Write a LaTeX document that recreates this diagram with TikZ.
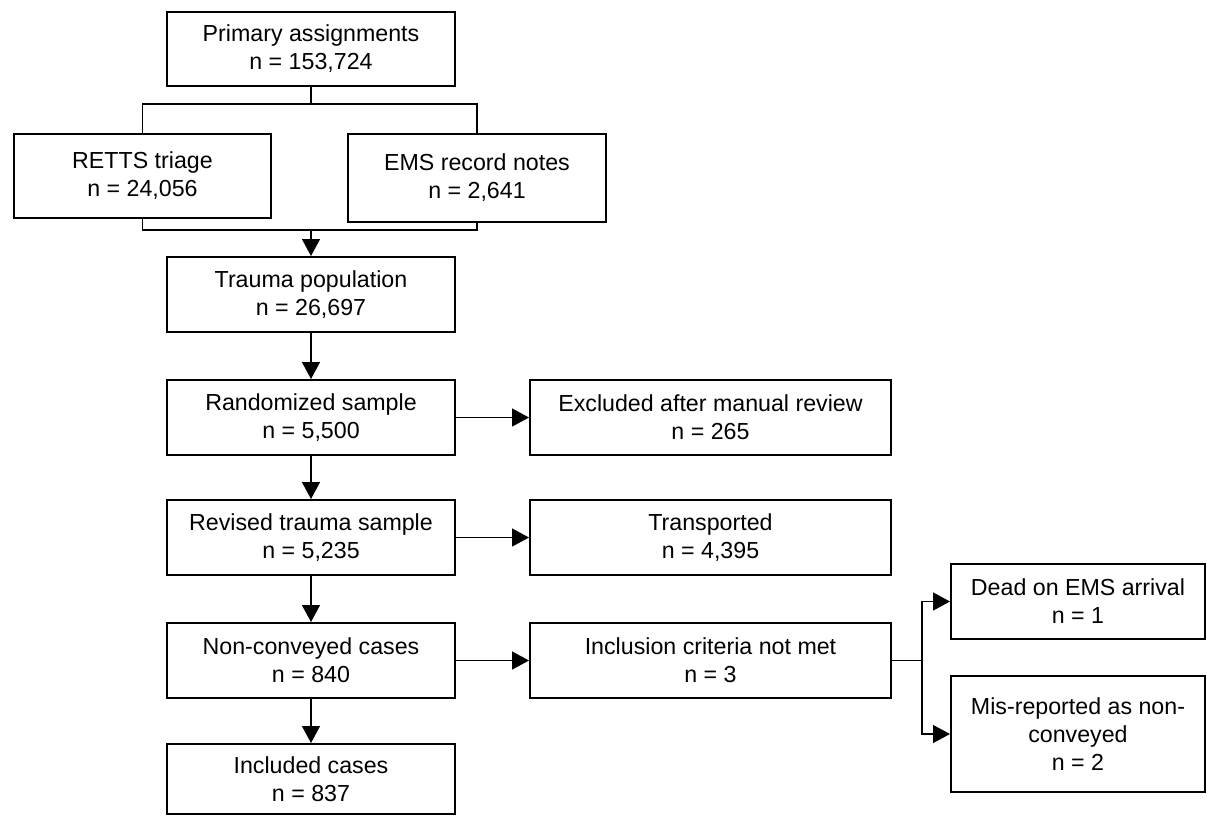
\documentclass[tikz,border=0pt]{standalone}
\usepackage{fontspec}
\setmainfont{Liberation Sans}
\usetikzlibrary{arrows.meta}

\begin{document}
\begin{tikzpicture}[x=0.5pt,y=-0.5pt,
        box/.style={draw, line width=1pt, align=center, inner sep=0pt,
            minimum height=37.5pt, font=\fontsize{11.6}{14}\selectfont},
        main/.style={box, minimum width=144pt},
        side/.style={box, minimum width=180.5pt},
        far/.style={box, minimum width=127pt},
        arr/.style={-{Triangle[length=8.5pt,width=9pt]}, line width=0.7pt},
        link/.style={line width=0.7pt}]
  \useasboundingbox (0,0) rectangle (1207,816);
  \node[main, minimum height=37pt] (prim) at (311,49) {Primary assignments\\n = 153,724};
  \node[box, minimum width=128.5pt, minimum height=42pt] (retts) at (142.5,176) {RETTS triage\\n = 24,056};
  \node[box, minimum width=129pt, minimum height=44pt] (ems) at (477,178) {EMS record notes\\n = 2,641};
  \node[main] (trauma) at (311,294.5) {Trauma population\\n = 26,697};
  \node[main] (rand) at (311,417.5) {Randomized sample\\n = 5,500};
  \node[side] (excl) at (710.5,417.5) {Excluded after manual review\\n = 265};
  \node[main] (rev) at (311,537.5) {Revised trauma sample\\n = 5,235};
  \node[side] (trans) at (710.5,537.5) {Transported\\n = 4,395};
  \node[main] (nonconv) at (311,660.5) {Non-conveyed cases\\n = 840};
  \node[side] (crit) at (710.5,660.5) {Inclusion criteria not met\\n = 3};
  \node[main, minimum height=35pt] (incl) at (311,779) {Included cases\\n = 837};
  \node[far] (dead) at (1078,601.5) {Dead on EMS arrival\\n = 1};
  \node[far, minimum height=58pt] (mis) at (1078,734) {Mis-reported as non-\\conveyed\\n = 2};

  \coordinate (split) at (311,104);
  \coordinate (merge) at (311,230);
  \coordinate (fork) at (922,660.5);

  \draw[link] (prim) -- (split);
  \draw[link] (retts.north) |- (split) -| (ems.north);
  \draw[link] (retts.south) |- (merge) -| (ems.south);
  \draw[arr] (merge) -- (trauma);
  \draw[arr] (trauma) -- (rand);
  \draw[arr] (rand) -- (excl);
  \draw[arr] (rand) -- (rev);
  \draw[arr] (rev) -- (trans);
  \draw[arr] (rev) -- (nonconv);
  \draw[arr] (nonconv) -- (crit);
  \draw[arr] (nonconv) -- (incl);
  \draw[link] (crit) -- (fork);
  \draw[arr] (fork) |- (dead);
  \draw[arr] (fork) |- (mis);
\end{tikzpicture}
\end{document}
